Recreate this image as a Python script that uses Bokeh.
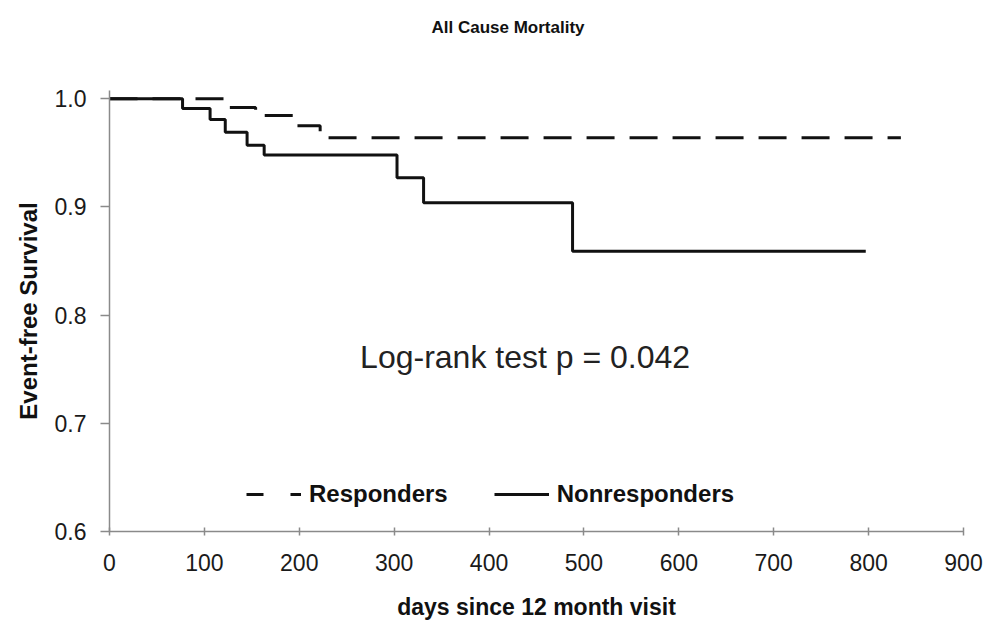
from bokeh.plotting import figure
from bokeh.models import Range1d, Legend, LegendItem, Label, FixedTicker, CustomJSTickFormatter
from bokeh.embed import file_html
from bokeh.resources import INLINE

# --- data (Kaplan-Meier step curves) ---
nonresp_days = [0, 77, 106, 122, 145, 163, 303, 331, 488, 797]
nonresp_surv = [1.000, 0.991, 0.981, 0.969, 0.957, 0.948, 0.927, 0.904, 0.859, 0.859]

resp_days = [0, 124, 154, 198, 222, 834]
resp_surv = [1.000, 0.992, 0.9845, 0.975, 0.964, 0.964]

x_ticks = [0, 100, 200, 300, 400, 500, 600, 700, 800, 900]
y_ticks = [0.6, 0.7, 0.8, 0.9, 1.0]

title_text = "All Cause Mortality"
x_title = "days since 12 month visit"
y_title = "Event-free Survival"
annotation_text = "Log-rank test p = 0.042"
series_names = ["Responders", "Nonresponders"]

FONT = "Liberation Sans"
INK = "#111111"
AXIS = "#8a8a8a"

p = figure(width=983, height=622, output_backend="svg", toolbar_location=None,
           x_range=Range1d(0, 900), y_range=Range1d(0.6, 1.0077),
           min_border_left=109, min_border_right=20, min_border_top=90,
           min_border_bottom=60)
p.outline_line_color = None
p.grid.visible = False
p.background_fill_color = "white"
p.border_fill_color = "white"

# title: trailing blank lines lift the text to the top of the header band
p.title.text = title_text + "\n \n "
p.title.align = "left"
p.title.offset = 322
p.title.standoff = 4
p.title.text_line_height = 1.35
p.title.text_font = FONT
p.title.text_font_style = "bold"
p.title.text_font_size = "17px"
p.title.text_color = INK

r_resp = p.step(resp_days, resp_surv, mode="after", line_color=INK,
                line_width=3, line_dash="28 15")
r_non = p.step(nonresp_days, nonresp_surv, mode="after", line_color=INK,
               line_width=3)

# legend-only renderers (sample styling as in the reference); NaN data, nothing drawn in plot
nan = float("nan")
leg_resp = p.line([nan, nan], [nan, nan], line_color=INK, line_width=3, line_dash="17 27")
leg_non = p.line([nan, nan], [nan, nan], line_color=INK, line_width=3)

legend = Legend(items=[LegendItem(label=series_names[0], renderers=[leg_resp]),
                       LegendItem(label=series_names[1], renderers=[leg_non])],
                orientation="horizontal", location=(137, 23),
                background_fill_alpha=0, border_line_color=None,
                padding=0, margin=0, spacing=46, glyph_width=55,
                glyph_height=24, label_height=24, label_standoff=8,
                label_text_font=FONT, label_text_font_style="bold",
                label_text_font_size="24px", label_text_color=INK)
p.add_layout(legend, "center")

# axes
xa = p.xaxis[0]
xa.ticker = FixedTicker(ticks=x_ticks)
xa.axis_label = x_title
ya = p.yaxis[0]
ya.ticker = FixedTicker(ticks=y_ticks)
ya.axis_label = y_title
ya.formatter = CustomJSTickFormatter(code="return tick.toFixed(1);")

for ax in (xa, ya):
    ax.axis_line_color = AXIS
    ax.axis_line_width = 1.5
    ax.major_tick_line_color = AXIS
    ax.major_tick_line_width = 1.5
    ax.minor_tick_line_color = None
    ax.major_label_text_font = FONT
    ax.major_label_text_font_size = "23px"
    ax.major_label_text_color = "#1a1a1a"
    ax.axis_label_text_font = FONT
    ax.axis_label_text_font_style = "bold"
    ax.axis_label_text_font_size = "24px"
    ax.axis_label_text_color = INK

xa.axis_label_text_font_size = "23px"
xa.major_tick_in = 4
xa.major_tick_out = 4
xa.major_label_standoff = 18
xa.axis_label_standoff = 20
ya.major_tick_in = 0
ya.major_tick_out = 9
ya.major_label_standoff = 14
ya.axis_label_standoff = 10

# annotation text
p.add_layout(Label(x=438, y=0.761, text=annotation_text, text_align="center",
                   text_baseline="middle", text_font=FONT,
                   text_font_size="32px", text_color="#222222"))

open("out.html", "w").write(file_html(p, INLINE))
